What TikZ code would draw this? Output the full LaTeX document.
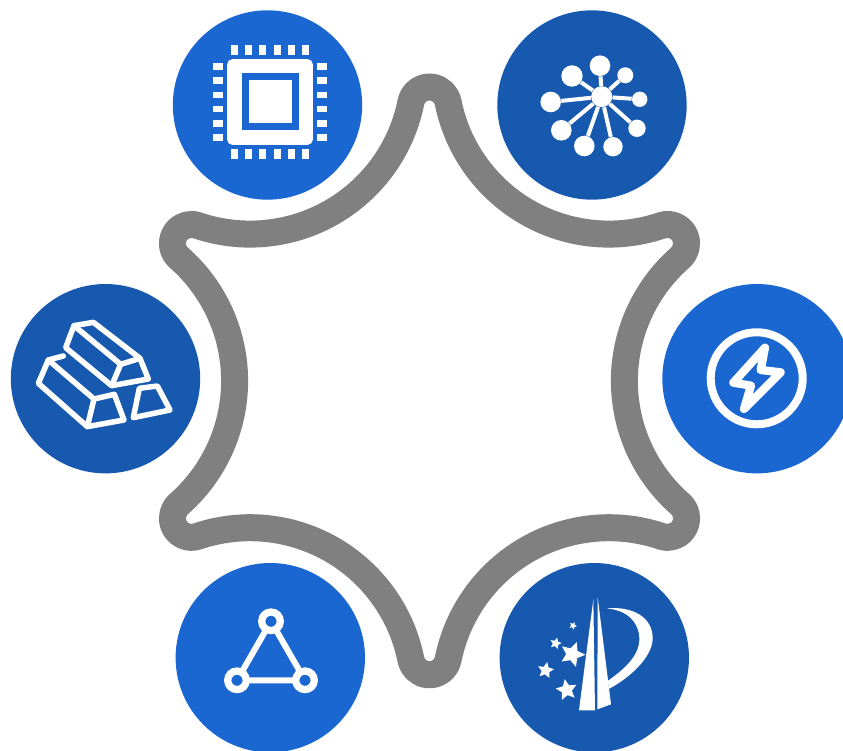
\documentclass[tikz,border=0pt]{standalone}
\usetikzlibrary{shapes.geometric}
\definecolor{lightblue}{HTML}{1A67D2}
\definecolor{darkblue}{HTML}{1759AF}
\tikzstyle{disc}=[circle,minimum size=3.788cm,inner sep=0pt,draw=none]
\tikzstyle{ring}=[draw=black!50,line width=0.54cm,line join=round]
\tikzstyle{icon}=[draw=white,line join=round,line cap=round]
\tikzstyle{sat}=[circle,fill=white,inner sep=0pt]
\tikzstyle{vertex}=[circle,draw=white,line width=0.145cm,inner sep=0pt,outer sep=0pt,minimum size=0.372cm]
\tikzstyle{spark}=[star,star points=5,star point ratio=2.1,fill=white,inner sep=0pt]
\newcommand{\drawchip}[0]
{
	\filldraw[white,rounded corners=0.1cm] (-42.5,-42.5) rectangle (42.5,42.5);
	\fill[lightblue] (-28.5,-28.5) rectangle (28.5,28.5);
	\fill[white] (-21.5,-21.5) rectangle (21.5,21.5);
	\foreach \d in {-35.7,-21.5,-7.15,7.15,21.5,35.7}
	{
		\fill[white] (\d-3.6,47) rectangle (\d+3.6,57);
		\fill[white] (\d-3.6,-57) rectangle (\d+3.6,-47);
		\fill[white] (-57,\d-3.3) rectangle (-47,\d+3.3);
		\fill[white] (47,\d-3.3) rectangle (57,\d+3.3);
	}
}
\begin{document}
\begin{tikzpicture}[x=0.02cm,y=0.02cm]
	\useasboundingbox (0,0) rectangle (843,751);

	\coordinate (toptip) at (429.5,645);
	\draw[ring] (toptip) ++(168.69:19)
		foreach \a in {0,60,...,300} {arc (168.69-\a:11.31-\a:19) arc (191.31-\a:288.69-\a:164)} -- cycle;

	\node[disc,fill=lightblue](cpu) at (267.5,646){};
	\node[disc,fill=darkblue](graph) at (592,646){};
	\node[disc,fill=darkblue](gold) at (105.5,372.3){};
	\node[disc,fill=lightblue](bolt) at (757,372.3){};
	\node[disc,fill=lightblue](triangle) at (270.3,93.3){};
	\node[disc,fill=darkblue](logo) at (594.3,93.3){};

	% chip
	\begin{scope}[shift={(270,649)}]
		\drawchip{}
	\end{scope}

	% graph
	\node[sat,minimum size=0.42cm](hub) at (601.7,654.3){};
	\foreach \x/\y/\s/\n in {600/685.3/0.412/a,572/675/0.428/b,625.3/675.7/0.32/c,550.7/649/0.412/d,639.7/651.7/0.308/e,561.3/620.7/0.412/f,637/622.7/0.348/g,584.3/605/0.412/h,613/604.3/0.388/i}
	{
		\node[sat,minimum size=\s cm](sat\n) at (\x,\y){};
		\draw[white,line width=0.08cm] (hub) -- (sat\n);
	}

	% gold
	\begin{scope}[shift={(0,476)},scale=1/3,yscale=-1]
		\draw[icon,line width=0.11cm] (222,152) -- (280,142) -- (420,250) -- (445,312) -- (335,332) -- (197,218) -- cycle;
		\draw[icon,line width=0.11cm] (222,152) -- (362,268) -- (420,250) (362,268) -- (335,332);
		\draw[icon,line width=0.11cm] (190,243) -- (145,255) -- (115,325) -- (262,455) -- (372,435) -- (343,358) -- (282,372) -- (262,455);
		\draw[icon,line width=0.11cm] (145,255) -- (282,372);
		\draw[icon,line width=0.11cm] (418,340) -- (472,333) -- (510,405) -- (400,428) -- cycle;
	\end{scope}

	% bolt
	\draw[white,line width=0.16cm] (756.7,372.7) circle (46);
	\begin{scope}[shift={(650,476)},scale=1/3,yscale=-1]
		\draw[icon,line width=0.165cm] (345,218) -- (250,323) -- (303,332) -- (282,402) -- (392,292) -- (332,285) -- cycle;
	\end{scope}

	% triangle
	\node[vertex](apex) at (271,129.7){};
	\node[vertex](left) at (237,70.7){};
	\node[vertex](right) at (305,70.7){};
	\draw[white,line width=0.12cm] (apex) -- (left) -- (right) -- (apex);

	% logo
	\begin{scope}[shift={(490,200)},scale=1/3,yscale=-1]
		\fill[white] (310,145) -- (267,478) -- (315,478) -- cycle;
		\fill[white] (323,138) -- (322,475) -- (363,460) -- cycle;
		\fill[white] (350,172) .. controls (430,165) and (490,200) .. (488,265) .. controls (485,320) and (420,380) .. (358,413) -- (353,390) .. controls (410,350) and (450,310) .. (448,260) .. controls (445,210) and (410,178) .. (350,172);
		\node[spark,minimum size=0.52cm,rotate=-20](star1) at (247,310){};
		\node[spark,minimum size=0.44cm,rotate=10](star2) at (230,417){};
		\node[spark,minimum size=0.34cm,rotate=-10](star3) at (167,358){};
		\node[spark,minimum size=0.24cm,rotate=-15](star4) at (197,277){};
		\node[spark,minimum size=0.16cm,rotate=-25](star5) at (249,224){};
	\end{scope}
\end{tikzpicture}
\end{document}
